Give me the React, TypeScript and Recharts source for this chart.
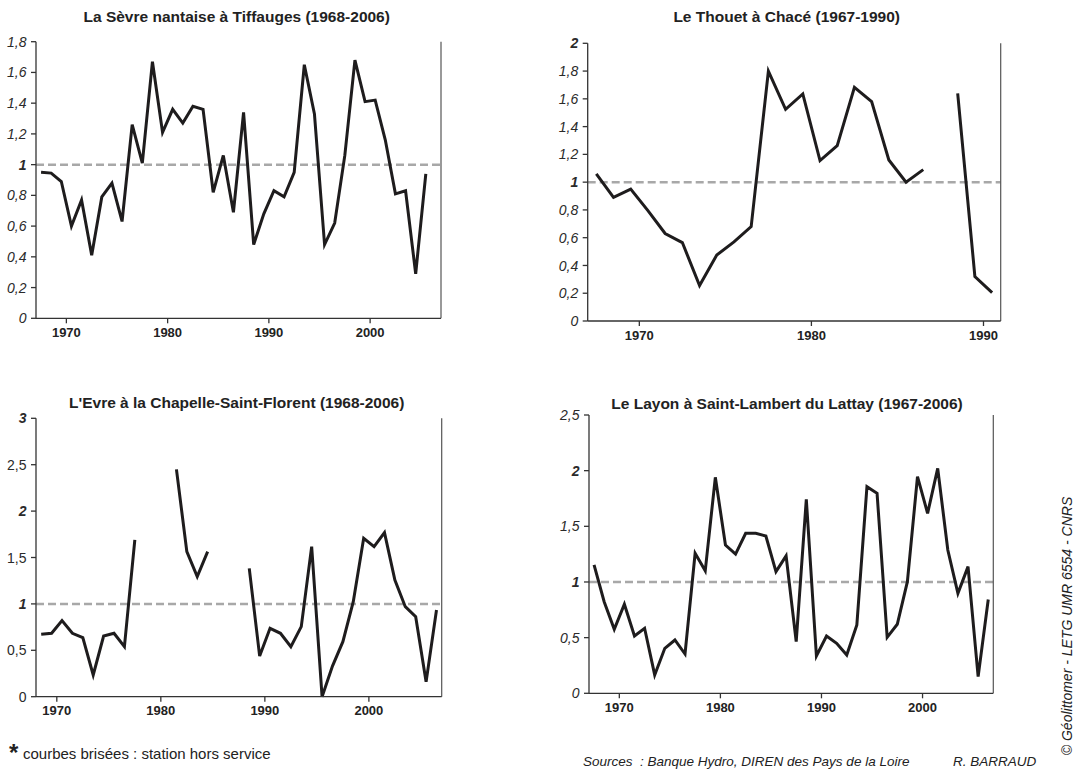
import React from 'react'
import { LineChart, Line, XAxis, YAxis, ReferenceLine } from 'recharts'

// years on the x axis, one value per year (null = station out of service)
const yearsFrom = (start: number, count: number) => Array.from({ length: count }, (_, i) => start + i)

const SEVRE_YEARS = yearsFrom(1967, 39)
const SEVRE_VALUES = [
  0.95, 0.945, 0.89, 0.6, 0.77, 0.41, 0.79, 0.88, 0.63, 1.26,
  1.01, 1.67, 1.21, 1.36, 1.27, 1.38, 1.36, 0.82, 1.06, 0.69,
  1.34, 0.48, 0.68, 0.83, 0.79, 0.95, 1.65, 1.33, 0.48, 0.62,
  1.06, 1.68, 1.41, 1.42, 1.16, 0.81, 0.83, 0.29, 0.94,
]

const THOUET_YEARS = yearsFrom(1967, 24)
const THOUET_VALUES = [
  1.06, 0.89, 0.95, 0.795, 0.63, 0.565, 0.255, 0.475, 0.57, 0.68,
  1.8, 1.525, 1.635, 1.155, 1.263, 1.683, 1.58, 1.16, 1.0, 1.09,
  null, 1.64, 0.32, 0.205,
]

const EVRE_YEARS = yearsFrom(1968, 39)
const EVRE_VALUES = [
  0.672, 0.683, 0.82, 0.683, 0.636, 0.234, 0.654, 0.683, 0.539, 1.69,
  null, null, null, 2.45, 1.563, 1.294, 1.563, null, null, null,
  1.383, 0.438, 0.737, 0.683, 0.539, 0.755, 1.617, 0, 0.33, 0.593,
  1.024, 1.707, 1.617, 1.768, 1.258, 0.97, 0.862, 0.16, 0.934,
]

const LAYON_YEARS = yearsFrom(1967, 40)
const LAYON_VALUES = [
  1.153, 0.823, 0.575, 0.8, 0.515, 0.584, 0.165, 0.404, 0.479, 0.353,
  1.257, 1.1, 1.94, 1.332, 1.25, 1.437, 1.437, 1.413, 1.093, 1.234,
  0.464, 1.743, 0.335, 0.515, 0.449, 0.344, 0.614, 1.856, 1.796, 0.503,
  0.62, 1.003, 1.946, 1.617, 2.02, 1.287, 0.898, 1.138, 0.15, 0.843,
]

const X_TICKS_LONG = [1970, 1980, 1990, 2000]
const X_TICKS_SHORT = [1970, 1980, 1990]
const SEVRE_Y_TICKS = [0, 0.2, 0.4, 0.6, 0.8, 1, 1.2, 1.4, 1.6, 1.8]
const THOUET_Y_TICKS = [0, 0.2, 0.4, 0.6, 0.8, 1, 1.2, 1.4, 1.6, 1.8, 2]
const EVRE_Y_TICKS = [0, 0.5, 1, 1.5, 2, 2.5, 3]
const LAYON_Y_TICKS = [0, 0.5, 1, 1.5, 2, 2.5]

const FONT = "'Liberation Sans', Arial, sans-serif"
const NARROW = "'Liberation Sans Narrow', 'Arial Narrow', 'Liberation Sans', Arial, sans-serif"
const INK = '#1e1c1d'

const XTick = (props: any) => {
  const { x, y, payload } = props
  return (
    <text x={x} y={y} dy={11.5} textAnchor="middle" fontFamily={NARROW} fontWeight="bold" fontSize={13} fill="#222">
      {payload.value}
    </text>
  )
}

const makeYTick = (bold: number[], upright: number[]) => (props: any) => {
  const { x, y, payload } = props
  const v = payload.value as number
  return (
    <text
      x={x}
      y={y}
      dy="0.36em"
      textAnchor="end"
      fontFamily={FONT}
      fontSize={14}
      fontWeight={bold.includes(v) ? 'bold' : 'normal'}
      fontStyle={upright.includes(v) ? 'normal' : 'italic'}
      fill="#2a2a2a"
    >
      {String(v).replace('.', ',')}
    </text>
  )
}

interface PanelProps {
  years: number[]
  values: (number | null)[]
  xDomain: [number, number]
  xTicks: number[]
  yTicks: number[]
  bold: number[]
  upright: number[]
  left: number
  top: number
  width: number
  height: number
  margin: { top: number; right: number; left: number; bottom: number }
  yAxisWidth: number
  xAxisHeight: number
}

const Panel: React.FC<PanelProps> = (p) => {
  const data = p.years.map((year, i) => ({ x: year + 0.5, v: p.values[i] }))
  const yMax = p.yTicks[p.yTicks.length - 1]
  return (
    <div style={{ position: 'absolute', left: p.left, top: p.top }}>
      <LineChart width={p.width} height={p.height} data={data} margin={p.margin}>
        <XAxis
          dataKey="x"
          type="number"
          domain={p.xDomain}
          ticks={p.xTicks}
          interval={0}
          height={p.xAxisHeight}
          tick={<XTick />}
          tickSize={5}
          tickMargin={2}
          axisLine={{ stroke: '#333', strokeWidth: 1.3 }}
          tickLine={{ stroke: '#333', strokeWidth: 1.3 }}
        />
        <YAxis
          type="number"
          domain={[0, yMax]}
          ticks={p.yTicks}
          interval={0}
          width={p.yAxisWidth}
          tick={makeYTick(p.bold, p.upright)}
          tickSize={5}
          tickMargin={4.5}
          axisLine={{ stroke: '#333', strokeWidth: 1.3 }}
          tickLine={{ stroke: '#333', strokeWidth: 1.3 }}
        />
        <ReferenceLine y={1} stroke="#a8a8a8" strokeWidth={2.5} strokeDasharray="8 4" />
        <ReferenceLine x={p.xDomain[1]} stroke="#555" strokeWidth={1.2} />
        <Line
          dataKey="v"
          type="linear"
          stroke={INK}
          strokeWidth={3}
          dot={false}
          connectNulls={false}
          isAnimationActive={false}
        />
      </LineChart>
    </div>
  )
}

export default function App() {
  return (
    <div style={{ position: 'absolute', left: 0, top: 0, width: 1075, height: 773, background: '#fff', overflow: 'hidden' }}>
      <Panel
        years={SEVRE_YEARS}
        values={SEVRE_VALUES}
        xDomain={[1967, 2007]}
        xTicks={X_TICKS_LONG}
        yTicks={SEVRE_Y_TICKS}
        bold={[1]}
        upright={[]}
        left={0}
        top={0}
        width={460}
        height={345}
        margin={{ top: 41.7, right: 19, left: 0, bottom: 0 }}
        yAxisWidth={36}
        xAxisHeight={26.7}
      />
      <Panel
        years={THOUET_YEARS}
        values={THOUET_VALUES}
        xDomain={[1967, 1991]}
        xTicks={X_TICKS_SHORT}
        yTicks={THOUET_Y_TICKS}
        bold={[1, 2]}
        upright={[]}
        left={540}
        top={0}
        width={480}
        height={345}
        margin={{ top: 43.3, right: 19.3, left: 0, bottom: 0 }}
        yAxisWidth={47.7}
        xAxisHeight={24}
      />
      <Panel
        years={EVRE_YEARS}
        values={EVRE_VALUES}
        xDomain={[1968, 2007]}
        xTicks={X_TICKS_LONG}
        yTicks={EVRE_Y_TICKS}
        bold={[1, 2, 3]}
        upright={[0, 0.5, 1.5, 2.5]}
        left={0}
        top={380}
        width={460}
        height={345}
        margin={{ top: 38.3, right: 18.3, left: 0, bottom: 0 }}
        yAxisWidth={36}
        xAxisHeight={28.3}
      />
      <Panel
        years={LAYON_YEARS}
        values={LAYON_VALUES}
        xDomain={[1967, 2007]}
        xTicks={X_TICKS_LONG}
        yTicks={LAYON_Y_TICKS}
        bold={[1, 2]}
        upright={[]}
        left={540}
        top={380}
        width={480}
        height={345}
        margin={{ top: 35, right: 26.7, left: 0, bottom: 0 }}
        yAxisWidth={49}
        xAxisHeight={31.7}
      />
      <svg width={1075} height={773} style={{ position: 'absolute', left: 0, top: 0, pointerEvents: 'none' }}>
        <g fontFamily={NARROW} fontWeight="bold" fontSize={15.5} fill="#222" textAnchor="middle">
          <text x={236.7} y={22}>La Sèvre nantaise à Tiffauges (1968-2006)</text>
          <text x={786.7} y={22}>Le Thouet à Chacé (1967-1990)</text>
          <text x={236.7} y={407.5}>L'Evre à la Chapelle-Saint-Florent (1968-2006)</text>
          <text x={787} y={408.5}>Le Layon à Saint-Lambert du Lattay (1967-2006)</text>
        </g>
        <text x={9} y={761} fontFamily={FONT} fontWeight="bold" fontSize={24} fill="#222">*</text>
        <text x={23} y={759} fontFamily={NARROW} fontSize={15} fill="#222">courbes brisées : station hors service</text>
        <text x={583} y={766} fontFamily={NARROW} fontStyle="italic" fontSize={13.5} fill="#222" style={{ whiteSpace: 'pre' }}>
          Sources  : Banque Hydro, DIREN des Pays de la Loire
        </text>
        <text x={953} y={766} fontFamily={NARROW} fontStyle="italic" fontSize={13.5} fill="#222">R. BARRAUD</text>
        <text
          x={0}
          y={0}
          transform="translate(1072 626) rotate(-90)"
          textAnchor="middle"
          fontFamily={NARROW}
          fontStyle="italic"
          fontSize={14}
          fill="#222"
        >
          © Géolittomer - LETG UMR 6554 - CNRS
        </text>
      </svg>
    </div>
  )
}
